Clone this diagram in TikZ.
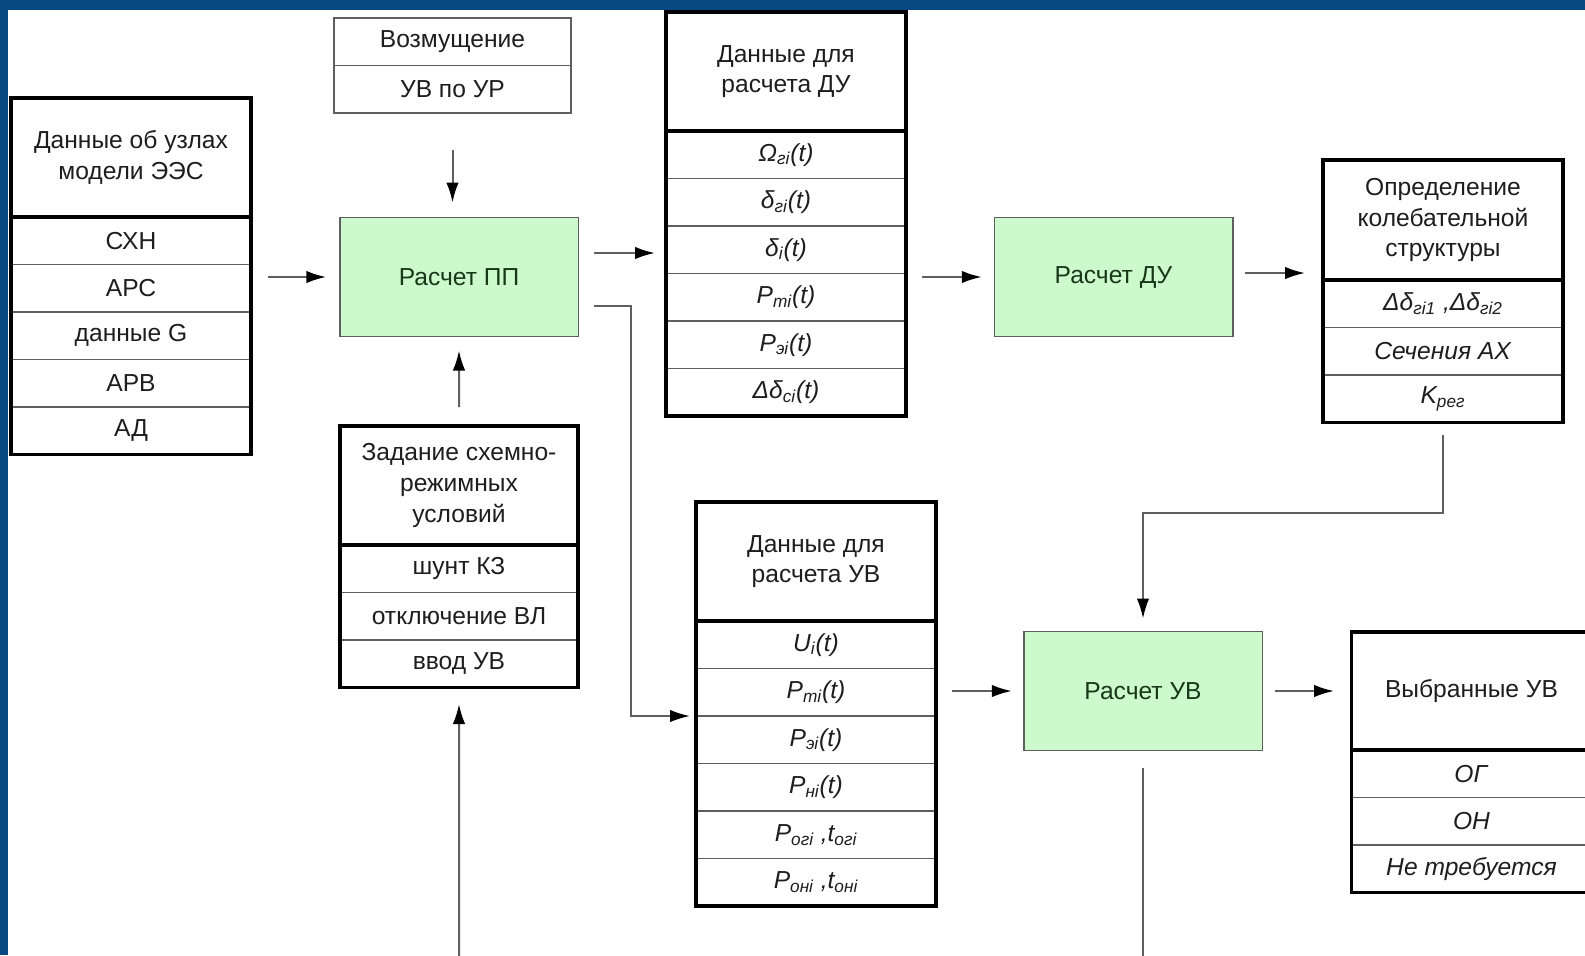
\documentclass[tikz,border=0pt]{standalone}
\usepackage{fontspec}
\setmainfont{Liberation Sans}
\usetikzlibrary{positioning,arrows.meta}

\definecolor{frameblue}{RGB}{8,72,128}
\definecolor{calcgreen}{RGB}{204,250,204}
\definecolor{calctext}{RGB}{25,55,25}
\definecolor{linegray}{RGB}{95,95,95}
\definecolor{inkgray}{RGB}{30,30,30}

\newcommand{\sbs}[1]{\textsubscript{#1}}

\tikzset{
  tabhead/.style={minimum width=48mm, minimum height=23.8mm, inner sep=0pt,
    outer sep=0pt, align=center, text=inkgray},
  cell/.style={draw=linegray, line width=0.3mm, minimum width=48mm,
    minimum height=9.5mm, inner sep=0pt, outer sep=0pt, text=inkgray},
  calcbox/.style={draw=linegray, line width=0.3mm, fill=calcgreen, text=calctext,
    minimum width=47.7mm, minimum height=23.8mm, inner sep=0pt, outer sep=0pt},
  rim/.style={draw=black, line width=0.7mm},
  arr/.style={draw=linegray, line width=0.4mm,
    -{Latex[length=4mm,width=2.5mm,color=black]}},
  wire/.style={draw=linegray, line width=0.4mm}
}

\begin{document}
\begin{tikzpicture}[x=0.2mm, y=-0.2mm, font=\fontsize{14}{17.5}\selectfont]
  \useasboundingbox (0,0) rectangle (1585,955);
  \fill[frameblue] (0,0) rectangle (1585,955);
  \fill[white] (8,10) rectangle (1585,955);

  % nodes of the model
  \node[tabhead, anchor=north west] (A) at (11,98) {Данные об узлах\\модели ЭЭС};
  \node[cell, below=0pt of A] (A1) {СХН};
  \node[cell, below=0pt of A1] (A2) {АРС};
  \node[cell, below=0pt of A2] (A3) {данные G};
  \node[cell, below=0pt of A3] (A4) {АРВ};
  \node[cell, below=0pt of A4] (A5) {АД};
  \draw[rim] (A.north west) rectangle (A5.south east) (A.south west) -- (A.south east);

  % disturbance
  \node[cell, minimum width=47.4mm, anchor=north west] (B1) at (334,18) {Возмущение};
  \node[cell, minimum width=47.4mm, below=0pt of B1] (B2) {УВ по УР};

  % calculation blocks
  \node[calcbox] (PP) at (459,277) {Расчет ПП};
  \node[calcbox] (DU) at (1113.5,277) {Расчет ДУ};
  \node[calcbox] (UV) at (1143,691) {Расчет УВ};

  % scheme conditions
  \node[tabhead, minimum width=47.6mm, anchor=north west] (C) at (340,426)
    {Задание схемно-\\режимных\\условий};
  \node[cell, minimum width=47.6mm, below=0pt of C] (C1) {шунт КЗ};
  \node[cell, minimum width=47.6mm, below=0pt of C1] (C2) {отключение ВЛ};
  \node[cell, minimum width=47.6mm, below=0pt of C2] (C3) {ввод УВ};
  \draw[rim] (C.north west) rectangle (C3.south east) (C.south west) -- (C.south east);

  % data for DU
  \node[tabhead, anchor=north west] (D) at (666,12) {Данные для\\расчета ДУ};
  \node[cell, below=0pt of D] (D1) {\textit{Ω\sbs{гi}(t)}};
  \node[cell, below=0pt of D1] (D2) {\textit{δ\sbs{гi}(t)}};
  \node[cell, below=0pt of D2] (D3) {\textit{δ\sbs{i}(t)}};
  \node[cell, below=0pt of D3] (D4) {\textit{P\sbs{mi}(t)}};
  \node[cell, below=0pt of D4] (D5) {\textit{P\sbs{эi}(t)}};
  \node[cell, below=0pt of D5] (D6) {\textit{Δδ\sbs{ci}(t)}};
  \draw[rim] (D.north west) rectangle (D6.south east) (D.south west) -- (D.south east);

  % data for UV
  \node[tabhead, anchor=north west] (E) at (696,502) {Данные для\\расчета УВ};
  \node[cell, below=0pt of E] (E1) {\textit{U\sbs{i}(t)}};
  \node[cell, below=0pt of E1] (E2) {\textit{P\sbs{mi}(t)}};
  \node[cell, below=0pt of E2] (E3) {\textit{P\sbs{эi}(t)}};
  \node[cell, below=0pt of E3] (E4) {\textit{P\sbs{нi}(t)}};
  \node[cell, below=0pt of E4] (E5) {\textit{P\sbs{огi} ,t\sbs{огi}}};
  \node[cell, below=0pt of E5] (E6) {\textit{P\sbs{онi} ,t\sbs{онi}}};
  \draw[rim] (E.north west) rectangle (E6.south east) (E.south west) -- (E.south east);

  % oscillation structure
  \node[tabhead, minimum height=24mm, anchor=north west] (F) at (1323,160)
    {Определение\\колебательной\\структуры};
  \node[cell, below=0pt of F] (F1) {\textit{Δδ\sbs{гi1} ,Δδ\sbs{гi2}}};
  \node[cell, below=0pt of F1] (F2) {\textit{Сечения АХ}};
  \node[cell, below=0pt of F2] (F3) {\textit{K\sbs{рег}}};
  \draw[rim] (F.north west) rectangle (F3.south east) (F.south west) -- (F.south east);

  % chosen actions
  \node[tabhead, minimum height=23.6mm, anchor=north west] (G) at (1351.5,632) {Выбранные УВ};
  \node[cell, below=0pt of G] (G1) {\textit{ОГ}};
  \node[cell, below=0pt of G1] (G2) {\textit{ОН}};
  \node[cell, below=0pt of G2] (G3) {\textit{Не требуется}};
  \draw[rim] (G.north west) rectangle (G3.south east) (G.south west) -- (G.south east);

  % connectors
  \coordinate (ppo) at ([yshift=4.8mm]PP.east);
  \coordinate (ppl) at ([yshift=-5.8mm]PP.east);
  \coordinate (cin) at (459,965);
  \coordinate (uvout) at (1143,965);

  \draw[arr, shorten <=7.4mm, shorten >=3mm] (B2.south) -- (B2.south |- PP.north);
  \draw[arr, shorten <=3.4mm, shorten >=2.7mm] (PP.west -| A.east) -- (PP.west);
  \draw[arr, shorten <=3.8mm, shorten >=2.8mm] (C.north) -- (PP.south);
  \draw[arr, shorten >=3.3mm] (cin) -- (C3.south);
  \draw[arr, shorten <=3.2mm, shorten >=2.2mm] (ppo) -- (ppo -| D.west);
  \draw[arr, shorten <=3.2mm, shorten >=1.2mm] (ppl) -| ([xshift=-13mm]E2.south west) -- (E2.south west);
  \draw[arr, shorten <=3.2mm, shorten >=2.5mm] (DU.west -| D.east) -- (DU.west);
  \draw[arr, shorten <=2.4mm, shorten >=3.6mm] ([yshift=0.8mm]DU.east) -- ([yshift=0.8mm]DU.east -| F.west);
  \draw[arr, shorten <=2.5mm, shorten >=2.6mm] (F3.south) |- ([yshift=23.7mm]UV.north) -- (UV.north);
  \draw[arr, shorten <=3.2mm, shorten >=2.4mm] (UV.west -| E.east) -- (UV.west);
  \draw[arr, shorten <=2.5mm, shorten >=3.5mm] (UV.east) -- (UV.east -| G.west);
  \draw[wire, shorten <=3.4mm] (UV.south) -- (uvout);
\end{tikzpicture}
\end{document}
